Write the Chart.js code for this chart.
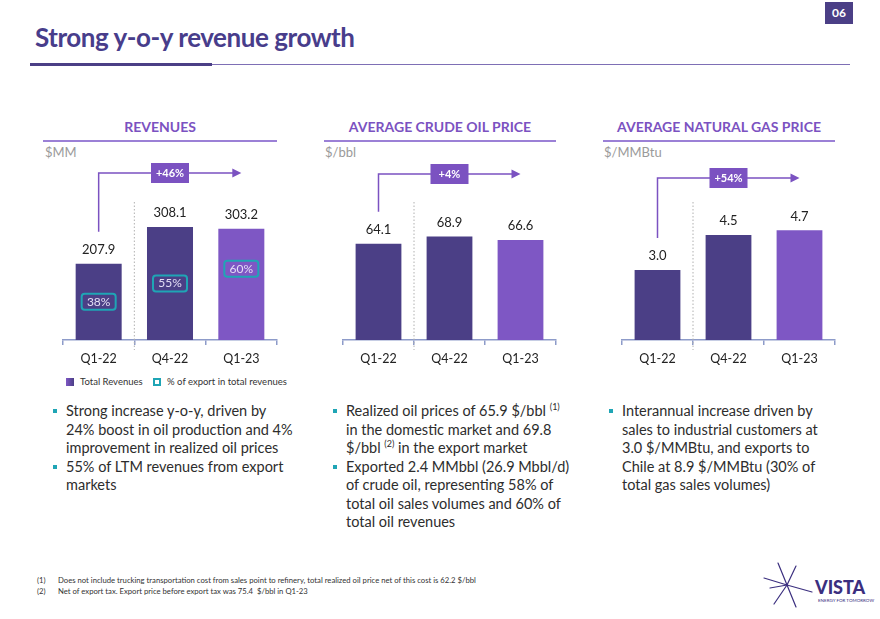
<!DOCTYPE html>
<html>
<head>
<meta charset="utf-8">
<script src="https://cdn.jsdelivr.net/npm/chart.js@4.4.0/dist/chart.umd.min.js"></script>
<style>
  body { margin: 0; width: 880px; height: 619px; position: relative; background: #fff; font-family: Lato, 'Open Sans', sans-serif; overflow: hidden; }
  .abs { position: absolute; white-space: nowrap; }
  #title { left: 35px; top: 20px; font-size: 26px; line-height: 34px; font-weight: 700; color: #483d8b; letter-spacing: -0.45px; }
  #rule1 { left: 30px; top: 63px; width: 182px; height: 3px; background: #4b3f86; }
  #rule2 { left: 212px; top: 64px; width: 638px; height: 1px; background: #7e6fb5; }
  #page { left: 825px; top: 2px; width: 28px; height: 22px; background: #4b3f86; color: #fff; font-weight: 700; font-size: 12px; line-height: 22px; text-align: center; }
  .ctitle { top: 118px; font-size: 14px; line-height: 18px; font-weight: 700; color: #7b52c1; text-align: center; }
  .cline { top: 140px; height: 2px; background: #9b80d6; }
  .unit { top: 144px; font-size: 13px; line-height: 16px; color: #9a9a9a; }
  canvas { position: absolute; }
  .legend { top: 376px; font-size: 9.5px; line-height: 12px; color: #333; }
  .sw { display: inline-block; width: 8px; height: 8px; vertical-align: -1px; margin-right: 6px; box-sizing: border-box; }
  .bul { font-size: 14.5px; line-height: 18.5px; color: #2d2d2d; }
  .bul p { margin: 0; position: relative; }
  .bul p::before { content: ''; position: absolute; left: -13px; top: 7px; width: 4px; height: 4px; background: #1fa5b5; }
  sup { font-size: 9px; line-height: 0; vertical-align: 6px; }
  .fn { left: 37px; font-size: 7.7px; line-height: 11px; color: #333; }
  .fn span { display: inline-block; width: 21px; }
</style>
</head>
<body>
<div class="abs" id="title">Strong y-o-y revenue growth</div>
<div class="abs" id="rule1"></div>
<div class="abs" id="rule2"></div>
<div class="abs" id="page">06</div>

<div class="abs ctitle" style="left:43px;width:234px">REVENUES</div>
<div class="abs cline" style="left:43px;width:234px"></div>
<div class="abs unit" style="left:45px">$MM</div>

<div class="abs ctitle" style="left:324px;width:232px">AVERAGE CRUDE OIL PRICE</div>
<div class="abs cline" style="left:324px;width:232px"></div>
<div class="abs unit" style="left:325px">$/bbl</div>

<div class="abs ctitle" style="left:603px;width:232px">AVERAGE NATURAL GAS PRICE</div>
<div class="abs cline" style="left:603px;width:232px"></div>
<div class="abs unit" style="left:604px">$/MMBtu</div>

<canvas id="revChart" width="254" height="235" style="left:43px;top:140px"></canvas>
<canvas id="oilChart" width="253" height="235" style="left:323px;top:140px"></canvas>
<canvas id="gasChart" width="253" height="235" style="left:602px;top:140px"></canvas>

<div class="abs legend" style="left:66px">
  <span class="sw" style="background:linear-gradient(90deg,#7e57c4,#4b3f86)"></span>Total Revenues
  <span class="sw" style="border:2px solid #1fa5b5;margin-left:8px"></span>% of export in total revenues
</div>

<div class="abs bul" style="left:66px;top:402px">
  <p>Strong increase y-o-y, driven by<br>24% boost in oil production and 4%<br>improvement in realized oil prices</p>
  <p>55% of LTM revenues from export<br>markets</p>
</div>
<div class="abs bul" style="left:346px;top:402px">
  <p>Realized oil prices of 65.9 $/bbl <sup>(1)</sup><br>in the domestic market and 69.8<br>$/bbl <sup>(2)</sup> in the export market</p>
  <p>Exported 2.4 MMbbl (26.9 Mbbl/d)<br>of crude oil, representing 58% of<br>total oil sales volumes and 60% of<br>total oil revenues</p>
</div>
<div class="abs bul" style="left:622px;top:402px">
  <p>Interannual increase driven by<br>sales to industrial customers at<br>3.0 $/MMBtu, and exports to<br>Chile at 8.9 $/MMBtu (30% of<br>total gas sales volumes)</p>
</div>

<div class="abs fn" style="top:575px"><span>(1)</span>Does not include trucking transportation cost from sales point to refinery, total realized oil price net of this cost is 62.2 $/bbl</div>
<div class="abs fn" style="top:586px"><span>(2)</span>Net of export tax. Export price before export tax was 75.4 &nbsp;$/bbl in Q1-23</div>

<svg class="abs" style="left:760px;top:560px" width="120" height="55">
  <g stroke="#3b2f7f" stroke-width="1.2" stroke-linecap="round">
    <line x1="27" y1="25" x2="4" y2="18" />
    <line x1="27" y1="25" x2="52" y2="32" />
    <line x1="27" y1="25" x2="18" y2="3" />
    <line x1="27" y1="25" x2="36" y2="47" />
    <line x1="27" y1="25" x2="36" y2="6" />
    <line x1="27" y1="25" x2="14" y2="44" />
    <line x1="27" y1="25" x2="10" y2="28" />
  </g>
  <text x="55" y="34" font-family="Lato" font-weight="900" font-size="18" fill="#3b2f7f">VISTA</text>
  <text x="58" y="42" font-family="Lato" font-size="4.5" fill="#3b2f7f">ENERGY FOR TOMORROW</text>
</svg>

<script>
const quarters = ['Q1-22', 'Q4-22', 'Q1-23'];
const revenues = [207.9, 308.1, 303.2];
const exportShare = [38, 55, 60];
const oilPrice = [64.1, 68.9, 66.6];
const gasPrice = [3.0, 4.5, 4.7];
const growthLabels = ['+46%', '+4%', '+54%'];

const DARK = '#4b3f86';
const LIGHT = '#7e57c4';
const ACCENT = '#7b52c1';
const TEAL = '#1fa5b5';

// arrows, value labels, divider and export badges
const decor = {
  id: 'decor',
  afterDatasetsDraw(chart, args, opts) {
    const ctx = chart.ctx;
    const bars = chart.getDatasetMeta(0).data;
    const values = chart.data.datasets[0].data;
    const area = chart.chartArea;
    ctx.save();

    const divX = (bars[0].x + bars[1].x) / 2;
    ctx.strokeStyle = '#b0b0b0';
    ctx.lineWidth = 1;
    ctx.setLineDash([1.5, 2]);
    ctx.beginPath();
    ctx.moveTo(divX, area.top + 62);
    ctx.lineTo(divX, area.bottom + 10);
    ctx.stroke();
    ctx.setLineDash([]);

    ctx.fillStyle = '#222';
    ctx.font = '13px Lato';
    ctx.textAlign = 'center';
    ctx.textBaseline = 'middle';
    bars.forEach((b, i) => ctx.fillText(values[i].toFixed(1), b.x, b.y - 14));

    const lineY = area.top + opts.arrowGap;
    ctx.strokeStyle = ACCENT;
    ctx.lineWidth = 1.5;
    ctx.beginPath();
    ctx.moveTo(bars[0].x, bars[0].y - 32);
    ctx.lineTo(bars[0].x, lineY);
    ctx.lineTo(bars[2].x - 8, lineY);
    ctx.stroke();
    ctx.fillStyle = ACCENT;
    ctx.beginPath();
    ctx.moveTo(bars[2].x, lineY);
    ctx.lineTo(bars[2].x - 9, lineY - 4.5);
    ctx.lineTo(bars[2].x - 9, lineY + 4.5);
    ctx.closePath();
    ctx.fill();
    ctx.fillRect(bars[1].x - 19, lineY - 10, 38, 20);
    ctx.fillStyle = '#fff';
    ctx.font = 'bold 11px Lato';
    ctx.fillText(opts.growth, bars[1].x, lineY);

    if (opts.badges) {
      ctx.font = '12px Lato';
      bars.forEach((b, i) => {
        const h = b.base - b.y;
        const cy = b.base - h * opts.lift[i];
        ctx.fillStyle = b.options.backgroundColor;
        ctx.strokeStyle = TEAL;
        ctx.lineWidth = 2;
        ctx.beginPath();
        ctx.roundRect(b.x - 17, cy - 8, 34, 16, 3);
        ctx.fill();
        ctx.stroke();
        ctx.fillStyle = '#e4def5';
        ctx.fillText(opts.badges[i] + '%', b.x, cy);
      });
    }
    ctx.restore();
  }
};

function barChart(id, values, yMax, decorOpts) {
  new Chart(document.getElementById(id), {
    type: 'bar',
    data: {
      labels: quarters,
      datasets: [{
        data: values,
        backgroundColor: [DARK, DARK, LIGHT],
        categoryPercentage: 1,
        barPercentage: 0.645
      }]
    },
    options: {
      responsive: false,
      animation: false,
      layout: { padding: { left: 20, right: 20, top: 0, bottom: 3 } },
      plugins: { legend: { display: false }, tooltip: { enabled: false }, decor: decorOpts },
      scales: {
        x: {
          grid: { offset: true, drawOnChartArea: false, drawTicks: true, tickLength: 5, color: '#8d9bc9', lineWidth: 1.5 },
          border: { display: true, color: '#8d9bc9', width: 1.5 },
          ticks: { color: '#222', font: { family: 'Lato', size: 12.5 }, padding: 6 }
        },
        y: { display: false, min: 0, max: yMax }
      }
    },
    plugins: [decor]
  });
}

barChart('revChart', revenues, 545, { growth: growthLabels[0], arrowGap: 33, badges: exportShare, lift: [0.5, 0.5, 0.64] });
barChart('oilChart', oilPrice, 133.3, { growth: growthLabels[1], arrowGap: 34 });
barChart('gasChart', gasPrice, 8.57, { growth: growthLabels[2], arrowGap: 38 });
</script>
</body>
</html>
